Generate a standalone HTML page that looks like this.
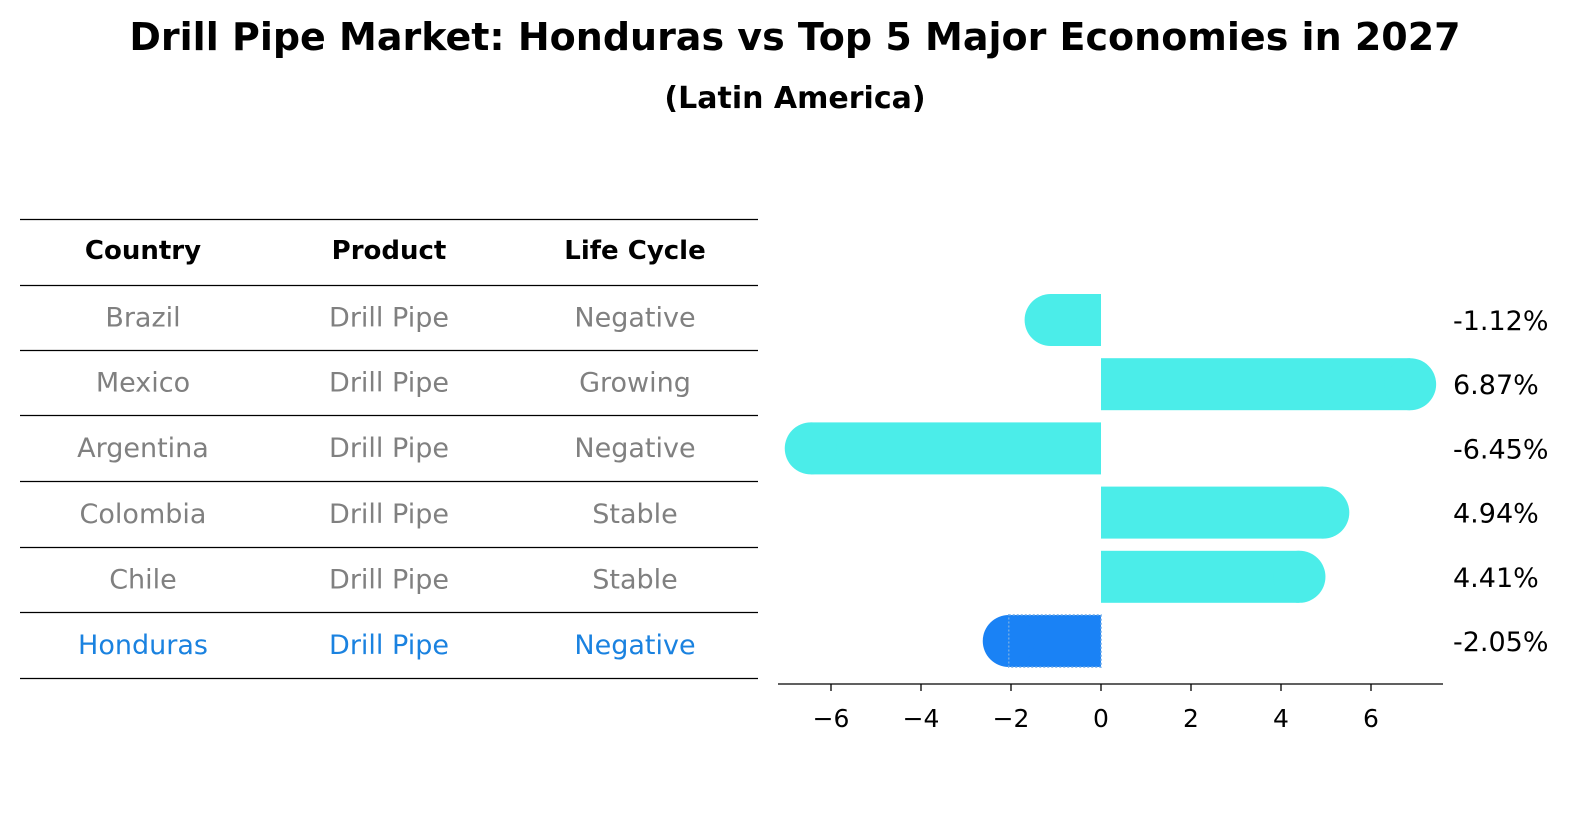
<!DOCTYPE html>
<html><head><meta charset="utf-8"><style>
body{margin:0;background:#fff;width:1596px;height:823px;overflow:hidden;font-family:"DejaVu Sans","Liberation Sans",sans-serif}
</style></head><body>
<svg width="1596" height="823" xmlns="http://www.w3.org/2000/svg">
<text x="795" y="50" text-anchor="middle" font-size="38" font-weight="bold" font-family="DejaVu Sans, sans-serif">Drill Pipe Market: Honduras vs Top 5 Major Economies in 2027</text>
<text x="795" y="108" text-anchor="middle" font-size="30" font-weight="bold" font-family="DejaVu Sans, sans-serif">(Latin America)</text>
<g id="table"></g>
<g id="bars"></g>
</svg>
<script>
const countries=["Brazil","Mexico","Argentina","Colombia","Chile","Honduras"];
const products=["Drill Pipe","Drill Pipe","Drill Pipe","Drill Pipe","Drill Pipe","Drill Pipe"];
const lifeCycles=["Negative","Growing","Negative","Stable","Stable","Negative"];
const growth=[-1.12,6.87,-6.45,4.94,4.41,-2.05];
const ticks=[-6,-4,-2,0,2,4,6];
const NS="http://www.w3.org/2000/svg";
function mk(tag,attrs,parent){const e=document.createElementNS(NS,tag);for(const k in attrs)e.setAttribute(k,attrs[k]);parent.appendChild(e);return e;}
const tbl=document.getElementById('table');
const lineYs=[219,285,350,415,481,547,612,678];
lineYs.forEach(y=>{const l=mk('line',{x1:20,x2:758,y1:y+0.5,y2:y+0.5,stroke:'#000','stroke-width':1.2},tbl);

});
const colX=[143,389,635];
["Country","Product","Life Cycle"].forEach((h,i)=>{const t=mk('text',{x:colX[i],y:259,'text-anchor':'middle','font-size':26,'font-weight':'bold','font-family':'DejaVu Sans, sans-serif'},tbl);t.textContent=h;

});
countries.forEach((c,r)=>{const y=(lineYs[r+1]+lineYs[r+2])/2+9;const col=r===countries.length-1?'#1a82e0':'#808080';
[c,products[r],lifeCycles[r]].forEach((v,i)=>{const t=mk('text',{x:colX[i],y:y,'text-anchor':'middle','font-size':27,fill:col,'font-family':'DejaVu Sans, sans-serif'},tbl);t.textContent=v;

});});
const g=document.getElementById('bars');
const x0=1101,ppu=45;const xs=v=>x0+v*ppu;
const rowY=i=>320+i*64.2;const h=52,r=26;
growth.forEach((v,i)=>{const cy=rowY(i);const xe=xs(v);const hon=i===growth.length-1;const fill=hon?'#1a82f5':'#4bede9';
const left=Math.min(x0,xe),w=Math.abs(xe-x0);
const rect=mk('rect',{x:left,y:cy-h/2,width:w,height:h,fill:fill},g);


const cap=mk('circle',{cx:xe,cy:cy,r:r,fill:fill},g);


if(hon){const o=mk('rect',{x:left,y:cy-h/2,width:w,height:h,fill:'none',stroke:'#6aa8e8','stroke-width':1.5,'stroke-dasharray':'2,2'},g);

}
const t=mk('text',{x:1453,y:cy+10,'font-size':27,'font-family':'DejaVu Sans, sans-serif'},g);t.textContent=v.toFixed(2)+'%';

});
const ax=mk('line',{x1:778,x2:1443,y1:684,y2:684,stroke:'#000','stroke-width':1.3},g);


ticks.forEach(v=>{const tl=mk('line',{x1:xs(v),x2:xs(v),y1:684,y2:691,stroke:'#000','stroke-width':1.3},g);


const t=mk('text',{x:xs(v),y:727,'text-anchor':'middle','font-size':25,'font-family':'DejaVu Sans, sans-serif'},g);t.textContent=(v<0?'\u2212'+(-v):String(v));

});
</script>
</body></html>
